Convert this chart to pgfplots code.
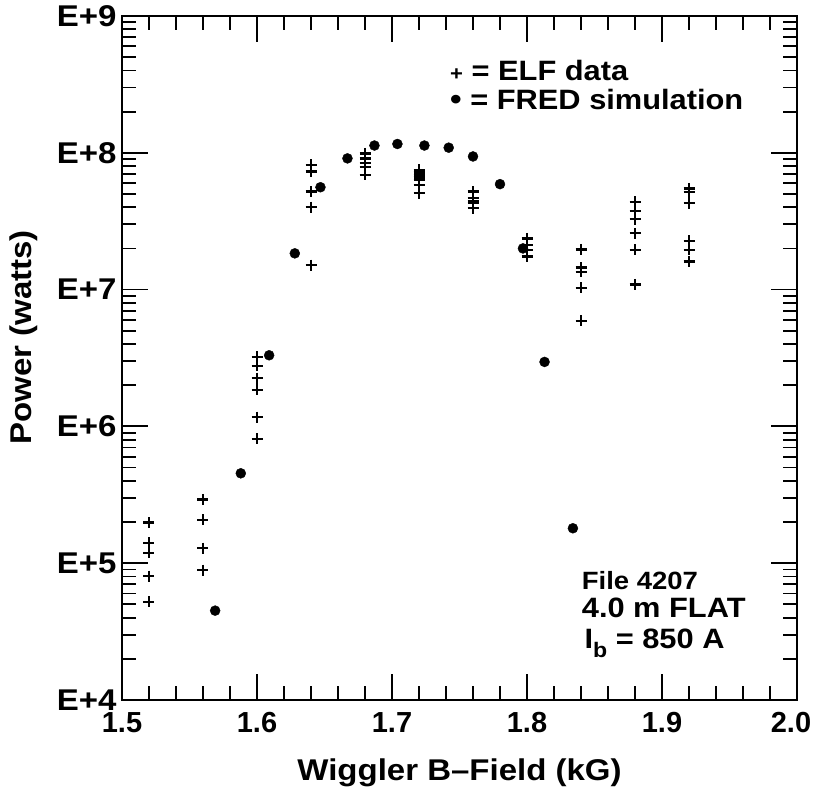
\documentclass[border=0pt]{standalone}
\usepackage{fontspec}
\setmainfont{Liberation Sans}[FakeStretch=1.1]
\newfontfamily\tickfam{Liberation Sans}
\usepackage{pgfplots}
\pgfplotsset{compat=1.18}

\newcommand\tickf{\tickfam\fontsize{29bp}{32bp}\selectfont\bfseries}
\newcommand\labf{\fontsize{30bp}{34bp}\selectfont\bfseries}

\begin{document}
\begin{tikzpicture}
\useasboundingbox (-122bp,-101bp) rectangle (693bp,700bp);
\begin{axis}[
    scale only axis,
    width=675bp, height=684bp,
    at={(0,0)}, anchor=south west,
    xmin=1.5, xmax=2.0,
    ymode=log, ymin=1e4, ymax=1e9,
    xtick={1.5,1.6,1.7,1.8,1.9,2.0},
    xticklabels={1.5,1.6,1.7,1.8,1.9,\hspace*{-12bp}2.0},
    minor x tick num=4,
    ytick={1e4,1e5,1e6,1e7,1e8,1e9},
    yticklabels={E+4,E+5,E+6,E+7,E+8,E+9},
    minor ytick={2e4,3e4,4e4,5e4,6e4,7e4,8e4,9e4,
                 2e5,3e5,4e5,5e5,6e5,7e5,8e5,9e5,
                 2e6,3e6,4e6,5e6,6e6,7e6,8e6,9e6,
                 2e7,3e7,4e7,5e7,6e7,7e7,8e7,9e7,
                 2e8,3e8,4e8,5e8,6e8,7e8,8e8,9e8},
    major tick length=26bp,
    minor tick length=14bp,
    every tick/.style={black, line width=1.8bp},
    axis line style={line width=2.2bp},
    tick align=inside,
    xticklabel style={font=\tickf, anchor=center, yshift=-23bp},
    yticklabel style={font=\labf, xshift=-2bp},
    xlabel={Wiggler B--Field (kG)},
    ylabel={Power (watts)},
    xlabel style={font=\labf, at={(rel axis cs:0.5,-0.107)}, anchor=center},
    ylabel style={font=\labf, at={(rel axis cs:-0.145,0.53)}, anchor=center},
    clip=false,
]
% ELF data
\addplot[only marks, mark=+, mark size=5.5bp, line width=2.4bp, black] coordinates {
    (1.52,1.98e5) (1.52,1.41e5) (1.52,1.19e5) (1.52,8.06e4) (1.52,5.23e4)
    (1.56,2.93e5) (1.56,2.07e5) (1.56,1.29e5) (1.56,8.9e4)
    (1.60,3.23e6) (1.60,2.77e6) (1.60,2.25e6) (1.60,1.85e6) (1.60,1.17e6) (1.60,8.1e5)
    (1.64,8.15e7) (1.64,7.28e7) (1.64,5.2e7) (1.64,4.0e7) (1.64,1.51e7)
    (1.68,9.9e7) (1.68,9.1e7) (1.68,8.4e7) (1.68,7.9e7) (1.68,6.9e7)
    (1.72,7.5e7) (1.72,7.2e7) (1.72,6.9e7) (1.72,6.6e7) (1.72,6.3e7) (1.72,5.8e7) (1.72,5.06e7)
    (1.76,5.2e7) (1.76,4.65e7) (1.76,4.4e7) (1.76,4.28e7) (1.76,3.93e7)
    (1.80,2.37e7) (1.80,2.12e7) (1.80,1.95e7) (1.80,1.74e7)
    (1.84,1.97e7) (1.84,1.45e7) (1.84,1.35e7) (1.84,1.03e7) (1.84,5.9e6)
    (1.88,4.39e7) (1.88,3.76e7) (1.88,3.28e7) (1.88,2.58e7) (1.88,1.95e7) (1.88,1.09e7)
    (1.92,5.5e7) (1.92,5.15e7) (1.92,4.28e7) (1.92,2.27e7) (1.92,1.95e7) (1.92,1.6e7)
};
% FRED simulation
\addplot[only marks, mark=*, mark size=5bp, black] coordinates {
    (1.569,4.5e4) (1.588,4.54e5) (1.609,3.31e6) (1.628,1.84e7) (1.647,5.6e7)
    (1.667,9.1e7) (1.687,1.13e8) (1.704,1.16e8) (1.724,1.13e8) (1.742,1.09e8)
    (1.760,9.4e7) (1.780,5.9e7) (1.797,2.0e7) (1.813,2.96e6) (1.834,1.8e5)
};
\node[anchor=base west, font=\fontsize{28bp}{32bp}\selectfont\bfseries, inner sep=0pt]
    at (rel axis cs:0.486,0.906) {{\fontsize{20bp}{20bp}\selectfont +} = ELF data};
\node[anchor=base west, font=\fontsize{28bp}{32bp}\selectfont\bfseries, inner sep=0pt]
    at (rel axis cs:0.486,0.863) {{\fontsize{30bp}{30bp}\selectfont •} = FRED simulation};
\node[anchor=base west, font=\fontsize{25bp}{30bp}\selectfont\bfseries, inner sep=0pt]
    at (rel axis cs:0.681,0.161) {File 4207};
\node[anchor=base west, font=\fontsize{28bp}{32bp}\selectfont\bfseries, inner sep=0pt]
    at (rel axis cs:0.681,0.120) {4.0 m FLAT};
\node[anchor=base west, font=\fontsize{28bp}{32bp}\selectfont\bfseries, inner sep=0pt]
    at (rel axis cs:0.685,0.0746) {I\raisebox{-0.3em}{\fontsize{21bp}{21bp}\selectfont b} = 850 A};
\end{axis}
\end{tikzpicture}
\end{document}
